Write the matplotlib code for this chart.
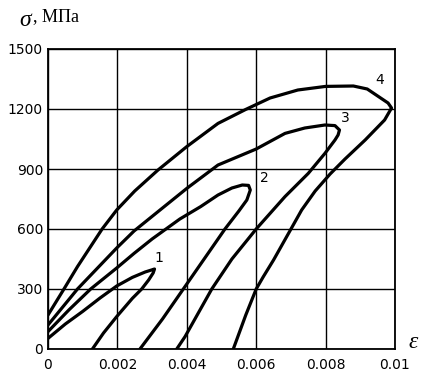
import matplotlib
matplotlib.use("Agg")
import matplotlib.pyplot as plt

# strain / stress loops
eps1 = [0.0, 0.0005, 0.001, 0.0015, 0.00198, 0.00243, 0.0028, 0.003, 0.00307, 0.00303, 0.0029, 0.0027, 0.00243, 0.00198, 0.0016, 0.00128]
sig1 = [53, 125, 188, 255, 315, 358, 385, 396, 400, 380, 345, 300, 253, 162, 80, 0]

eps2 = [0.0, 0.0006, 0.00123, 0.00198, 0.00248, 0.003, 0.0038, 0.0044, 0.0049, 0.0053, 0.0056, 0.00578, 0.00583, 0.00573, 0.0055, 0.0051, 0.00448, 0.0039, 0.0033, 0.00265]
sig2 = [87, 195, 300, 405, 478, 550, 650, 712, 770, 805, 820, 818, 795, 745, 690, 600, 445, 300, 150, 0]

eps3 = [0.0, 0.00085, 0.00198, 0.00248, 0.0033, 0.004, 0.0049, 0.006, 0.00683, 0.0074, 0.00798, 0.00827, 0.0084, 0.00836, 0.00827, 0.00798, 0.0075, 0.00683, 0.006, 0.0053, 0.00472, 0.00395, 0.00371]
sig3 = [120, 300, 505, 590, 705, 803, 920, 1000, 1078, 1105, 1120, 1117, 1095, 1070, 1045, 978, 878, 762, 600, 450, 300, 62, 0]

eps4 = [0.0, 0.00046, 0.00085, 0.00156, 0.00198, 0.0025, 0.00317, 0.004, 0.0049, 0.0057, 0.0064, 0.0072, 0.008, 0.0088, 0.0092, 0.0095, 0.0098, 0.0099, 0.0097, 0.00914, 0.00856, 0.00813, 0.0077, 0.00731, 0.00697, 0.0065, 0.0062, 0.006, 0.0057, 0.00534]
sig4 = [170, 300, 412, 600, 695, 790, 895, 1012, 1128, 1198, 1255, 1295, 1313, 1315, 1300, 1265, 1230, 1205, 1145, 1045, 950, 875, 790, 695, 590, 445, 360, 300, 170, 0]

curve_names = ["1", "2", "3", "4"]
label_eps = [0.0032, 0.00623, 0.00856, 0.00957]
label_sig = [455, 855, 1153, 1345]

x_ticks = [0, 0.002, 0.004, 0.006, 0.008, 0.01]
x_labels = ["0", "0.002", "0.004", "0.006", "0.008", "0.01"]
y_ticks = [0, 300, 600, 900, 1200, 1500]

plt.rcParams["mathtext.fontset"] = "custom"
plt.rcParams["mathtext.it"] = "Liberation Serif:italic"
plt.rcParams["mathtext.rm"] = "Liberation Serif"

fig = plt.figure(figsize=(4.38, 3.80), dpi=100)
ax = fig.add_axes([48 / 438, 1 - 349 / 380, 347 / 438, 300 / 380])

for e, s in zip([eps1, eps2, eps3, eps4], [sig1, sig2, sig3, sig4]):
    ax.plot(e, s, color="black", lw=2.3, solid_joinstyle="round", solid_capstyle="round", zorder=3)

for name, xe, ys in zip(curve_names, label_eps, label_sig):
    ax.text(xe, ys, name, fontsize=10, family="DejaVu Sans", ha="center", va="center")

ax.set_xlim(0, 0.01)
ax.set_ylim(0, 1500)
ax.set_xticks(x_ticks)
ax.set_xticklabels(x_labels)
ax.set_yticks(y_ticks)
ax.tick_params(length=0, labelsize=10)
ax.tick_params(axis="x", pad=6.5)
ax.tick_params(axis="y", pad=3.6)
for lab in ax.get_xticklabels() + ax.get_yticklabels():
    lab.set_family("DejaVu Sans")
ax.grid(True, color="black", lw=1.0)
for sp in ax.spines.values():
    sp.set_linewidth(1.3)

fig.text(19 / 438, 1 - 19 / 380, r"$\sigma$", fontsize=17, va="center")
fig.text(33 / 438, 1 - 17 / 380, ", МПа", fontsize=13, family="Liberation Serif", va="center")
fig.text(408 / 438, 1 - 341 / 380, r"$\varepsilon$", fontsize=17, va="center")

fig.savefig("out.png", dpi=100)
